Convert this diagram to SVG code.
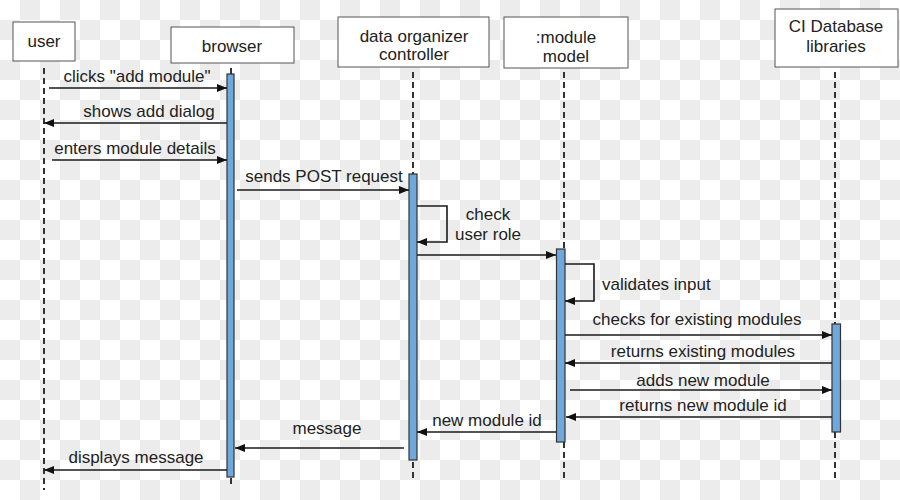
<svg xmlns="http://www.w3.org/2000/svg" width="900" height="500" viewBox="0 0 900 500">
<defs>
<pattern id="chk" width="40" height="40" patternUnits="userSpaceOnUse">
<rect width="40" height="40" fill="#ffffff"/>
<rect x="20" y="0" width="20" height="20" fill="#ececec"/>
<rect x="0" y="20" width="20" height="20" fill="#ececec"/>
</pattern>
<marker id="ah" viewBox="0 0 10 8" refX="10" refY="4" markerWidth="10" markerHeight="8" orient="auto" markerUnits="userSpaceOnUse">
<path d="M0,0 L10,4 L0,8 z" fill="#111"/>
</marker>
<style>
.box{fill:#fff;stroke:#555;stroke-width:1}
.life{stroke:#333;stroke-width:2;stroke-dasharray:6 4;fill:none}
.bar{fill:#6fa8dc;stroke:#333;stroke-width:1.2}
.msg{stroke:#1a1a1a;stroke-width:1.6;fill:none;marker-end:url(#ah)}
text{font-family:"Liberation Sans",Arial,sans-serif;font-size:17px;fill:#222}
.c{text-anchor:middle}
</style>
</defs>
<rect width="900" height="500" fill="url(#chk)"/>

<g id="user">
<line class="life" x1="44" y1="68" x2="44" y2="490"/>
<rect class="box" x="13" y="22" width="62" height="39"/>
<text class="c" x="44" y="47">user</text>
</g>
<g id="browser">
<line class="life" x1="231" y1="68" x2="231" y2="486"/>
<rect class="box" x="171" y="27" width="123" height="36"/>
<text class="c" x="232" y="52">browser</text>
<rect class="bar" x="227" y="74" width="7" height="403"/>
</g>
<g id="controller">
<line class="life" x1="413" y1="72" x2="413" y2="482"/>
<rect class="box" x="338" y="17" width="151" height="50"/>
<text class="c" x="414" y="42">data organizer</text>
<text class="c" x="414" y="60">controller</text>
<rect class="bar" x="409" y="174" width="8" height="286"/>
</g>
<g id="module">
<line class="life" x1="564" y1="72" x2="564" y2="482"/>
<rect class="box" x="504" y="17" width="124" height="51"/>
<text class="c" x="566" y="43">:module</text>
<text class="c" x="566" y="62">model</text>
<rect class="bar" x="556.5" y="249" width="8.5" height="193"/>
</g>
<g id="cidb">
<line class="life" x1="835" y1="72" x2="835" y2="482"/>
<rect class="box" x="775" y="9" width="123" height="58"/>
<text class="c" x="836" y="32">CI Database</text>
<text class="c" x="836" y="52">libraries</text>
<rect class="bar" x="832" y="324" width="8.5" height="108"/>
</g>

<g id="connectors">
<path class="msg" d="M49,88 H227"/>
<text class="c" x="137" y="82">clicks "add module"</text>
<path class="msg" d="M227,123 H44"/>
<text class="c" x="149" y="117">shows add dialog</text>
<path class="msg" d="M52,160 H227"/>
<text class="c" x="135" y="154">enters module details</text>
<path class="msg" d="M237,190 H409"/>
<text class="c" x="324" y="182">sends POST request</text>
<path class="msg" d="M417,206 H447 V242 H417"/>
<text class="c" x="488" y="220">check</text>
<text class="c" x="488" y="240">user role</text>
<path class="msg" d="M417,255 H556"/>
<path class="msg" d="M565,264 H594 V301 H565"/>
<text x="602" y="290">validates input</text>
<path class="msg" d="M565,335 H832"/>
<text class="c" x="697" y="325">checks for existing modules</text>
<path class="msg" d="M832,363 H565"/>
<text class="c" x="703" y="357">returns existing modules</text>
<path class="msg" d="M570,390 H832"/>
<text class="c" x="703" y="386">adds new module</text>
<path class="msg" d="M832,417 H566"/>
<text class="c" x="703" y="411">returns new module id</text>
<path class="msg" d="M556,432 H417"/>
<text class="c" x="487" y="426">new module id</text>
<path class="msg" d="M404,448 H235"/>
<text class="c" x="327" y="434">message</text>
<path class="msg" d="M227,470 H44"/>
<text class="c" x="136" y="463">displays message</text>
</g>
</svg>
